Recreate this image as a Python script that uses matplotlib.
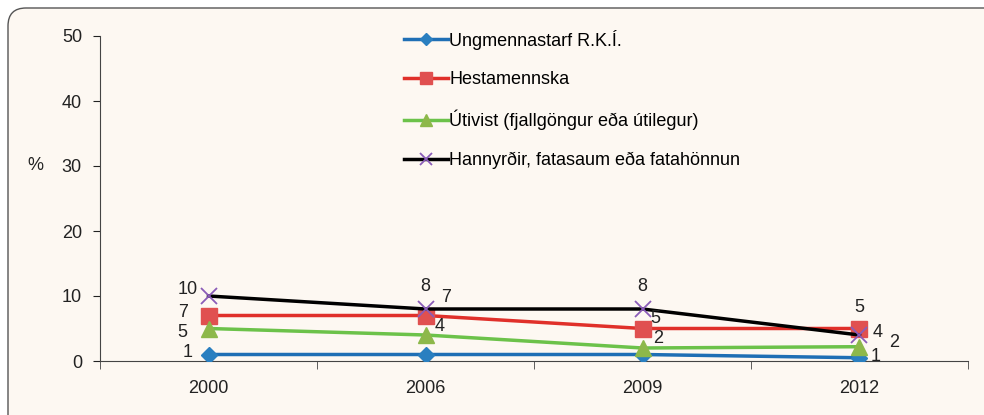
import matplotlib.pyplot as plt
from matplotlib.patches import FancyBboxPatch
from matplotlib.transforms import IdentityTransform

years = ['2000', '2006', '2009', '2012']
ungmenna = [1, 1, 1, 0.5]
hesta = [7, 7, 5, 5]
utivist = [5, 4, 2, 2.2]
hannyrdir = [10, 8, 8, 4]

ungmenna_lbl = ['1', '', '', '1']
hesta_lbl = ['7', '7', '5', '5']
utivist_lbl = ['5', '4', '2', '2']
hannyrdir_lbl = ['10', '8', '8', '4']

bg = '#fdf8f2'
plt.rcParams['font.family'] = ['Liberation Sans', 'DejaVu Sans']

fig = plt.figure(figsize=(9.84, 4.15), dpi=100)
fig.patch.set_facecolor('white')
# rounded frame, in pixels
box = FancyBboxPatch((8, -60), 1040, 415 - 8 + 60,
                     boxstyle='round,pad=0,rounding_size=18',
                     transform=IdentityTransform(), facecolor=bg,
                     edgecolor='#555555', linewidth=1.0, zorder=-5)
fig.patches.append(box)

ax = fig.add_axes([100 / 984, 1 - 361 / 415, 868 / 984, 325 / 415])
ax.set_facecolor('none')
x = list(range(len(years)))

ax.plot(x, ungmenna, color='#1f6fb5', lw=2.5, marker='D', ms=8,
        mfc='#2a7fc0', mec='#2a7fc0', label='Ungmennastarf R.K.Í.', zorder=3)
ax.plot(x, hesta, color='#e0302a', lw=2.5, marker='s', ms=11,
        mfc='#e05050', mec='#e05050', label='Hestamennska', zorder=3)
ax.plot(x, utivist, color='#6cc24a', lw=2.5, marker='^', ms=11,
        mfc='#8db84a', mec='#8db84a', label='Útivist (fjallgöngur eða útilegur)', zorder=3)
ax.plot(x, hannyrdir, color='black', lw=2.5, marker='x', ms=11, mew=1.3,
        mec='#8a5cb8', label='Hannyrðir, fatasaum eða fatahönnun', zorder=4)

fs = 13
# data labels: offsets in points
offs_u = [(-15, 1.5), None, None, (11.5, 1)]
offs_h = [(-18, 2), (15, 13), (9, 7), (0, 15)]
offs_t = [(-19, -3), (10, 6), (11, 6.5), (25, 3)]
offs_k = [(-15, 4.5), (0, 16.5), (0, 16), (13, 2)]
for vals, lbls, offs in [(ungmenna, ungmenna_lbl, offs_u), (hesta, hesta_lbl, offs_h),
                         (utivist, utivist_lbl, offs_t), (hannyrdir, hannyrdir_lbl, offs_k)]:
    for i, (v, l, o) in enumerate(zip(vals, lbls, offs)):
        if o is None or not l:
            continue
        ax.annotate(l, (i, v), xytext=o, textcoords='offset points',
                    ha='center', va='center', fontsize=fs, color='#222222', zorder=5)

ax.set_xlim(-0.5, 3.5)
ax.set_ylim(0, 50)
ax.set_yticks(range(0, 51, 10))
ax.set_xticks(x)
ax.set_xticklabels(years)
ax.set_xticks([-0.5, 0.5, 1.5, 2.5, 3.5], minor=True)
ax.tick_params(axis='x', which='major', length=0, pad=14, labelsize=fs, colors='#222222')
ax.tick_params(axis='x', which='minor', length=6, direction='out', color='#444444')
ax.tick_params(axis='y', length=5, direction='out', labelsize=fs, colors='#222222', pad=8)
for s in ['top', 'right']:
    ax.spines[s].set_visible(False)
for s in ['left', 'bottom']:
    ax.spines[s].set_color('#444444')
ax.set_ylabel('%', rotation=0, fontsize=fs, color='#222222', va='center', ha='center')
ax.yaxis.set_label_coords(-0.075, 0.6)

ax.legend(loc='upper left', bbox_to_anchor=(288 / 868, 1.07), frameon=False,
          fontsize=fs, handlelength=2.4, handletextpad=0.1, labelspacing=1.2,
          markerscale=0.75)

fig.savefig('out.png', dpi=100, facecolor=fig.get_facecolor())
